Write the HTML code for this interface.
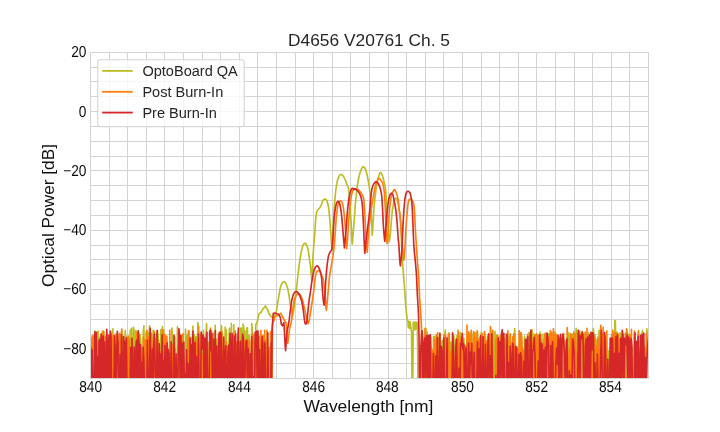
<!DOCTYPE html>
<html><head><meta charset="utf-8"><title>D4656 V20761 Ch. 5</title>
<style>
html,body{margin:0;padding:0;background:#fff;}
body{width:720px;height:432px;overflow:hidden;}
text{font-family:"Liberation Sans",Arial,sans-serif;fill:#262626;}
.tk{font-size:13.7px;fill:#0a0a0a;}
.lg{font-size:14.55px;}
.lb{font-size:17.4px;fill:#111;}
.yl{font-size:17.3px;fill:#111;}
.tt{font-size:17.35px;}
</style></head><body>
<svg width="720" height="432" viewBox="0 0 720 432" style="display:block">
<rect width="720" height="432" fill="#fff"/>
<path d="M90.5 52 V379 M109.5 52 V379 M127.5 52 V379 M146.5 52 V379 M164.5 52 V379 M183.5 52 V379 M202.5 52 V379 M220.5 52 V379 M239.5 52 V379 M257.5 52 V379 M276.5 52 V379 M295.5 52 V379 M313.5 52 V379 M332.5 52 V379 M350.5 52 V379 M369.5 52 V379 M388.5 52 V379 M406.5 52 V379 M425.5 52 V379 M443.5 52 V379 M462.5 52 V379 M481.5 52 V379 M499.5 52 V379 M518.5 52 V379 M536.5 52 V379 M555.5 52 V379 M574.5 52 V379 M592.5 52 V379 M611.5 52 V379 M629.5 52 V379 M648.5 52 V379 M90 52.5 H649 M90 67.5 H649 M90 81.5 H649 M90 96.5 H649 M90 111.5 H649 M90 126.5 H649 M90 141.5 H649 M90 156.5 H649 M90 170.5 H649 M90 185.5 H649 M90 200.5 H649 M90 215.5 H649 M90 230.5 H649 M90 245.5 H649 M90 259.5 H649 M90 274.5 H649 M90 289.5 H649 M90 304.5 H649 M90 319.5 H649 M90 334.5 H649 M90 348.5 H649 M90 363.5 H649 M90 378.5 H649" stroke="#d3d3d3" stroke-width="1" fill="none"/>
<clipPath id="c"><rect x="90" y="52" width="558" height="326"/></clipPath>
<g clip-path="url(#c)" fill="none" stroke-width="1.65" stroke-linejoin="round" stroke-linecap="butt">
<path d="M90.0 400.0 L90.6 400.0 L91.2 340.6 L91.9 400.0 L92.5 400.0 L93.1 335.9 L93.7 400.0 L94.3 400.0 L95.0 331.3 L95.6 331.5 L96.2 355.0 L96.8 400.0 L97.4 331.5 L98.1 331.2 L98.7 400.0 L99.3 337.2 L99.9 400.0 L100.5 400.0 L101.2 337.2 L101.8 400.0 L102.4 331.4 L103.0 351.0 L103.6 353.6 L104.3 400.0 L104.9 370.7 L105.5 400.0 L106.1 359.6 L106.7 400.0 L107.4 347.8 L108.0 400.0 L108.6 352.5 L109.2 339.2 L109.8 348.5 L110.5 400.0 L111.1 340.9 L111.7 347.9 L112.3 400.0 L112.9 328.8 L113.6 400.0 L114.8 400.0 L115.4 334.0 L116.0 347.2 L116.7 400.0 L117.3 400.0 L117.9 335.8 L118.5 351.7 L119.1 353.0 L119.8 353.2 L120.4 400.0 L121.0 359.4 L121.6 331.3 L122.2 400.0 L122.9 338.1 L123.5 346.1 L124.1 400.0 L124.7 342.7 L125.3 330.6 L126.0 400.0 L126.6 400.0 L127.2 336.2 L127.8 400.0 L128.4 400.0 L129.1 347.2 L129.7 345.8 L130.3 330.1 L130.9 374.2 L131.5 328.3 L132.2 380.0 L132.8 400.0 L133.4 327.2 L134.0 330.6 L134.6 400.0 L135.3 334.2 L135.9 330.6 L136.5 400.0 L137.1 400.0 L137.7 338.4 L138.4 400.0 L139.0 400.0 L139.6 334.1 L140.2 336.0 L140.8 340.5 L141.5 400.0 L142.1 351.1 L142.7 400.0 L143.3 332.0 L143.9 325.8 L144.6 400.0 L145.8 400.0 L146.4 331.4 L147.0 400.0 L147.7 332.4 L148.3 400.0 L148.9 354.8 L149.5 325.8 L150.1 400.0 L150.8 400.0 L151.4 350.3 L152.0 400.0 L152.6 348.4 L153.2 330.3 L153.9 347.3 L154.5 360.7 L155.1 338.5 L155.7 348.7 L156.3 366.0 L157.0 400.0 L157.6 331.5 L158.2 338.9 L158.8 343.5 L159.4 344.1 L160.1 400.0 L160.7 329.9 L161.3 400.0 L161.9 331.4 L162.5 326.7 L163.2 400.0 L163.8 329.9 L164.4 400.0 L165.0 334.0 L165.6 400.0 L166.3 358.7 L166.9 400.0 L167.5 360.8 L168.1 400.0 L168.7 400.0 L169.4 350.6 L170.0 400.0 L171.2 400.0 L171.8 328.0 L172.5 334.8 L173.1 400.0 L173.7 347.4 L174.3 400.0 L174.9 337.4 L175.6 400.0 L176.8 400.0 L177.4 326.8 L178.0 400.0 L178.7 339.2 L179.3 361.2 L179.9 400.0 L180.5 335.3 L181.1 400.0 L181.8 400.0 L182.4 349.6 L183.0 334.6 L183.6 400.0 L184.9 400.0 L185.5 329.3 L186.1 400.0 L186.7 335.5 L187.3 400.0 L188.0 368.4 L188.6 400.0 L189.2 331.4 L189.8 400.0 L190.4 400.0 L191.1 337.2 L191.7 343.5 L192.3 400.0 L192.9 326.1 L193.5 400.0 L194.2 334.5 L194.8 400.0 L195.4 400.0 L196.0 336.6 L196.6 400.0 L197.3 347.2 L197.9 322.6 L198.5 334.3 L199.1 400.0 L200.4 400.0 L201.0 334.6 L201.6 337.7 L202.2 400.0 L202.8 350.0 L203.5 330.3 L204.1 400.0 L204.7 360.2 L205.3 400.0 L205.9 337.5 L206.6 323.6 L207.2 400.0 L207.8 341.7 L208.4 400.0 L209.0 359.5 L209.7 392.4 L210.3 400.0 L210.9 353.5 L211.5 330.9 L212.1 400.0 L212.8 400.0 L213.4 338.8 L214.0 341.1 L214.6 400.0 L215.2 325.2 L215.9 400.0 L216.5 339.2 L217.1 400.0 L217.7 400.0 L218.3 345.0 L219.0 400.0 L219.6 341.8 L220.2 400.0 L220.8 400.0 L221.4 325.6 L222.1 334.6 L222.7 400.0 L223.3 340.6 L223.9 400.0 L224.5 400.0 L225.2 327.1 L225.8 400.0 L226.4 329.8 L227.0 400.0 L227.6 373.0 L228.3 400.0 L228.9 342.8 L229.5 328.1 L230.1 400.0 L230.7 400.0 L231.4 323.3 L232.0 400.0 L232.6 339.9 L233.2 400.0 L233.8 324.8 L234.5 400.0 L235.1 332.7 L235.7 400.0 L236.3 344.4 L236.9 400.0 L237.6 341.9 L238.2 333.0 L238.8 400.0 L239.4 342.7 L240.0 400.0 L240.7 328.2 L241.3 327.9 L241.9 367.7 L242.5 400.0 L243.1 324.1 L243.8 327.7 L244.4 400.0 L245.0 330.9 L245.6 400.0 L246.2 400.0 L246.9 327.8 L247.5 327.9 L248.1 400.0 L248.7 400.0 L249.3 335.3 L250.0 400.0 L251.2 400.0 L251.8 323.6 L252.4 331.6 L253.1 400.0 L253.7 339.5 L254.3 400.0 L254.9 400.0 L255.8 325.0 L257.5 320.8 L258.8 314.2 L260.8 312.5 L262.0 310.8 L263.3 308.3 L264.4 307.6 L265.4 305.8 L266.5 308.4 L267.5 309.2 L268.8 313.3 L270.4 315.8 L272.5 317.5 L272.9 317.3 L273.3 316.9 L273.7 316.5 L274.1 316.0 L274.5 315.5 L274.9 314.9 L275.3 314.2 L275.7 313.4 L276.1 312.3 L276.5 310.6 L276.9 307.8 L277.3 305.0 L277.7 302.6 L278.1 300.4 L278.5 298.2 L278.9 295.9 L279.3 293.6 L279.7 291.2 L280.1 289.0 L280.5 287.3 L280.9 285.9 L281.3 284.8 L281.7 283.8 L282.1 283.1 L282.5 282.7 L282.9 282.3 L283.3 282.0 L283.7 281.8 L284.1 281.7 L284.5 281.8 L284.9 282.2 L285.3 282.8 L285.7 283.4 L286.1 284.1 L286.5 284.9 L286.9 286.0 L287.3 287.3 L287.7 288.7 L288.1 290.4 L288.5 292.6 L288.9 295.0 L289.3 297.5 L289.7 300.2 L290.1 303.1 L290.5 305.6 L290.9 307.9 L291.3 310.1 L291.7 312.2 L292.1 314.2 L292.5 316.0 L292.9 314.3 L293.3 312.5 L293.7 310.4 L294.1 308.0 L294.5 305.4 L294.9 302.1 L295.3 298.4 L295.7 294.9 L296.1 291.6 L296.5 288.1 L296.9 284.3 L297.4 280.5 L297.8 276.7 L298.2 273.0 L298.6 269.4 L299.0 266.2 L299.4 263.3 L299.8 260.6 L300.2 258.0 L300.6 255.7 L301.0 253.4 L301.4 251.3 L301.8 249.3 L302.2 247.8 L302.6 246.6 L303.0 245.5 L303.4 244.6 L303.8 244.0 L304.2 243.6 L304.6 243.4 L305.0 243.3 L305.4 243.4 L305.8 243.8 L306.2 244.3 L306.6 244.9 L307.0 245.8 L307.5 247.2 L307.9 248.9 L308.3 250.9 L308.7 253.4 L309.1 256.4 L309.5 259.4 L309.9 262.2 L310.3 265.2 L310.7 268.6 L311.1 273.4 L311.5 277.5 L311.9 280.5 L312.3 269.8 L312.7 261.5 L313.1 255.1 L313.5 249.3 L313.9 243.7 L314.3 238.6 L314.7 233.8 L315.1 228.5 L315.5 221.8 L315.9 217.3 L316.3 214.3 L316.7 212.5 L317.1 211.3 L317.5 210.4 L317.9 209.8 L318.3 209.3 L318.7 208.9 L319.1 208.5 L319.5 208.0 L319.9 207.5 L320.3 206.9 L320.7 206.2 L321.1 205.4 L321.5 204.5 L321.9 203.2 L322.3 201.8 L322.7 200.7 L323.1 200.2 L323.5 199.7 L323.9 199.4 L324.3 199.1 L324.7 199.0 L325.1 199.0 L325.5 199.2 L325.9 199.5 L326.3 199.9 L326.7 200.4 L327.1 201.2 L327.5 202.6 L327.9 204.2 L328.3 206.1 L328.7 208.5 L329.1 211.9 L329.5 216.4 L329.9 220.8 L330.3 225.7 L330.7 231.6 L331.1 238.0 L331.5 243.8 L331.9 247.7 L332.3 250.0 L332.7 242.4 L333.1 233.2 L333.5 221.9 L333.9 213.3 L334.3 206.6 L334.7 201.7 L335.1 197.3 L335.5 192.8 L336.0 188.9 L336.4 186.1 L336.8 183.8 L337.2 181.8 L337.6 180.2 L338.0 178.8 L338.4 177.6 L338.8 176.6 L339.2 175.9 L339.6 175.4 L340.0 175.0 L340.4 174.6 L340.8 174.4 L341.2 174.4 L341.6 174.6 L342.0 174.9 L342.5 175.3 L342.9 175.7 L343.3 176.2 L343.7 176.8 L344.1 177.5 L344.5 178.3 L344.9 179.2 L345.3 180.0 L345.7 181.0 L346.1 182.1 L346.5 183.1 L346.9 184.2 L347.3 185.3 L347.7 186.2 L348.1 187.2 L348.5 188.7 L349.0 191.8 L349.4 196.7 L349.8 202.5 L350.2 208.1 L350.6 214.3 L351.0 220.8 L351.4 227.6 L351.8 235.9 L352.2 244.1 L352.6 240.3 L353.0 236.0 L353.4 231.2 L353.8 226.0 L354.2 220.6 L354.6 215.0 L355.0 208.7 L355.4 203.0 L355.8 199.0 L356.2 195.5 L356.6 191.9 L357.0 188.5 L357.4 185.6 L357.8 182.9 L358.2 180.5 L358.6 178.6 L359.0 176.7 L359.4 175.1 L359.8 173.6 L360.2 172.3 L360.6 171.1 L361.0 170.1 L361.4 169.2 L361.8 168.4 L362.2 167.8 L362.6 167.3 L363.0 166.8 L363.4 166.7 L363.8 166.9 L364.2 167.3 L364.6 167.7 L365.0 168.3 L365.4 169.1 L365.8 170.2 L366.2 171.5 L366.6 172.9 L367.0 174.5 L367.4 176.3 L367.8 178.4 L368.2 180.6 L368.6 182.8 L369.0 185.1 L369.4 187.8 L369.8 190.8 L370.2 194.4 L370.6 198.9 L371.0 205.8 L371.4 216.4 L371.8 226.5 L372.2 235.2 L372.6 230.4 L373.0 224.8 L373.4 218.3 L373.8 210.7 L374.2 205.4 L374.6 201.3 L375.0 197.8 L375.4 194.6 L375.8 191.4 L376.2 188.3 L376.7 185.4 L377.1 182.9 L377.5 180.9 L377.9 179.2 L378.3 177.6 L378.7 176.3 L379.1 175.1 L379.5 173.8 L379.9 172.8 L380.3 172.4 L380.7 172.6 L381.1 173.0 L381.5 173.7 L381.9 174.4 L382.3 175.3 L382.7 176.4 L383.1 177.9 L383.5 179.5 L383.9 181.3 L384.3 182.9 L384.7 184.8 L385.2 186.9 L385.6 189.7 L386.0 194.1 L386.4 200.5 L386.8 207.1 L387.2 213.8 L387.6 220.3 L388.0 226.3 L388.4 231.9 L388.8 237.1 L389.2 241.9 L389.6 240.2 L390.0 237.5 L390.4 234.0 L390.8 228.7 L391.2 223.1 L391.6 218.2 L392.0 213.6 L392.4 210.1 L392.8 207.6 L393.2 205.1 L393.6 202.5 L394.0 200.7 L394.4 199.6 L394.8 198.7 L395.2 198.3 L395.6 198.2 L396.0 198.4 L396.4 198.6 L396.8 199.0 L397.2 200.0 L397.6 201.5 L398.0 203.3 L398.5 205.2 L398.9 207.3 L399.3 209.9 L399.7 213.1 L400.1 217.3 L400.5 223.0 L400.9 230.5 L401.3 238.0 L401.7 245.9 L402.1 253.5 L402.5 260.6 L402.9 267.2 L403.3 272.7 L403.7 277.5 L404.1 282.3 L404.5 287.5 L404.9 293.4 L405.3 299.4 L405.7 304.7 L406.1 309.2 L406.5 313.3 L406.9 316.9 L407.3 320.0 L407.9 321.0 L408.3 327.5 L408.8 321.5 L409.4 328.5 L410.0 321.5 L410.8 326.6 L411.5 332.0 L412.2 400.0 L412.6 400.0 L413.3 322.0 L413.9 329.0 L414.4 322.5 L414.9 330.0 L415.4 322.0 L415.9 329.0 L416.4 322.3 L416.9 328.0 L417.3 322.5 L417.8 363.0 L418.2 400.0 L418.6 400.0 L419.8 400.0 L420.5 345.3 L421.1 400.0 L421.7 342.9 L422.3 344.7 L422.9 400.0 L423.6 358.0 L424.2 400.0 L425.4 400.0 L426.0 328.5 L426.7 400.0 L427.3 332.0 L427.9 400.0 L428.5 359.5 L429.1 358.3 L429.8 400.0 L430.4 400.0 L431.0 337.2 L431.6 400.0 L432.9 400.0 L433.5 336.6 L434.1 400.0 L434.7 336.3 L435.3 400.0 L436.6 400.0 L437.2 361.2 L437.8 346.0 L438.4 337.5 L439.1 400.0 L439.7 348.7 L440.3 400.0 L440.9 341.4 L441.5 400.0 L442.2 400.0 L442.8 340.3 L443.4 358.1 L444.0 400.0 L444.6 337.0 L445.3 330.1 L445.9 400.0 L446.5 400.0 L447.1 359.9 L447.7 345.8 L448.4 338.5 L449.0 332.9 L449.6 341.7 L450.2 400.0 L450.8 342.2 L451.5 400.0 L452.1 400.0 L452.7 338.3 L453.3 400.0 L453.9 335.6 L454.6 400.0 L455.2 400.0 L455.8 339.3 L456.4 354.2 L457.0 335.8 L457.7 400.0 L458.3 400.0 L458.9 348.7 L459.5 343.4 L460.1 332.4 L460.8 400.0 L461.4 400.0 L462.0 344.6 L462.6 400.0 L463.2 340.6 L463.9 338.4 L464.5 400.0 L465.1 400.0 L465.7 355.0 L466.3 357.2 L467.0 400.0 L467.6 400.0 L468.2 350.2 L468.8 400.0 L469.4 336.9 L470.1 333.0 L470.7 400.0 L471.3 342.4 L471.9 333.7 L472.5 400.0 L473.2 367.0 L473.8 400.0 L474.4 348.9 L475.0 332.2 L475.6 400.0 L476.3 333.0 L476.9 348.6 L477.5 331.8 L478.1 350.7 L478.7 400.0 L479.4 363.2 L480.0 337.2 L480.6 400.0 L481.2 332.4 L481.8 342.9 L482.5 400.0 L483.7 400.0 L484.3 340.1 L484.9 400.0 L485.6 400.0 L486.2 347.8 L486.8 400.0 L487.4 336.0 L488.0 360.6 L488.7 400.0 L489.3 337.8 L489.9 400.0 L490.5 334.6 L491.1 346.8 L491.8 400.0 L492.4 345.1 L493.0 400.0 L494.2 400.0 L494.9 331.4 L495.5 338.4 L496.1 335.9 L496.7 400.0 L497.3 334.9 L498.0 336.2 L498.6 400.0 L499.2 400.0 L499.8 336.6 L500.4 367.6 L501.1 400.0 L501.7 332.6 L502.3 400.0 L502.9 336.8 L503.5 400.0 L504.2 339.3 L504.8 400.0 L505.4 339.5 L506.0 333.9 L506.6 400.0 L507.3 361.1 L507.9 340.6 L508.5 400.0 L509.1 336.5 L509.7 400.0 L510.4 356.0 L511.0 352.3 L511.6 363.9 L512.2 341.7 L512.8 400.0 L513.5 336.7 L514.1 400.0 L514.7 328.6 L515.3 337.4 L515.9 400.0 L516.6 355.4 L517.2 400.0 L517.8 346.9 L518.4 400.0 L519.0 400.0 L519.7 333.2 L520.3 333.5 L520.9 351.1 L521.5 337.6 L522.1 400.0 L522.8 400.0 L523.4 355.9 L524.0 400.0 L524.6 336.0 L525.2 364.4 L525.9 349.3 L526.5 400.0 L527.1 343.0 L527.7 400.0 L528.3 400.0 L529.0 332.6 L529.6 400.0 L530.2 333.0 L530.8 359.0 L531.4 346.4 L532.1 329.9 L532.7 334.6 L533.3 400.0 L533.9 400.0 L534.5 334.4 L535.2 340.1 L535.8 400.0 L536.4 351.7 L537.0 344.7 L537.6 400.0 L538.3 368.2 L538.9 400.0 L539.5 342.8 L540.1 332.0 L540.7 400.0 L541.4 400.0 L542.0 334.2 L542.6 400.0 L543.2 400.0 L543.8 344.1 L544.5 357.8 L545.1 400.0 L545.7 400.0 L546.3 389.8 L546.9 400.0 L547.6 339.6 L548.2 400.0 L548.8 333.5 L549.4 334.6 L550.0 400.0 L550.7 346.3 L551.3 338.4 L551.9 400.0 L552.5 400.0 L553.1 361.3 L553.8 345.5 L554.4 400.0 L555.0 332.2 L555.6 333.2 L556.2 400.0 L556.9 400.0 L557.5 348.3 L558.1 400.0 L563.7 400.0 L564.3 357.9 L564.9 353.0 L565.5 344.1 L566.2 400.0 L566.8 342.3 L567.4 400.0 L568.0 400.0 L568.6 332.8 L569.3 334.7 L569.9 400.0 L570.5 340.3 L571.1 400.0 L571.7 400.0 L572.4 334.4 L573.0 397.3 L573.6 370.4 L574.2 400.0 L574.8 336.3 L575.5 400.0 L576.1 328.4 L576.7 336.0 L577.3 333.5 L577.9 333.2 L578.6 346.7 L579.2 400.0 L579.8 331.1 L580.4 400.0 L581.0 333.8 L581.7 400.0 L582.3 351.6 L582.9 337.3 L583.5 337.3 L584.1 400.0 L584.8 334.0 L585.4 349.8 L586.0 400.0 L586.6 400.0 L587.2 351.4 L587.9 400.0 L588.5 332.9 L589.1 400.0 L589.7 400.0 L590.3 343.5 L591.0 400.0 L591.6 341.1 L592.2 400.0 L592.8 335.5 L593.4 328.5 L594.1 341.8 L594.7 400.0 L595.3 335.4 L595.9 400.0 L596.5 339.9 L597.2 400.0 L597.8 341.5 L598.4 400.0 L599.0 330.6 L599.6 400.0 L600.3 400.0 L600.9 343.5 L601.5 348.5 L602.1 400.0 L602.7 333.8 L603.4 400.0 L604.0 338.0 L604.6 342.5 L605.2 400.0 L605.8 384.2 L606.5 400.0 L608.3 400.0 L608.9 350.6 L609.6 400.0 L610.2 400.0 L610.8 362.8 L611.4 347.0 L612.0 334.1 L612.7 400.0 L613.3 336.4 L614.2 400.0 L614.8 320.5 L615.4 321.5 L616.0 400.0 L617.0 331.8 L617.6 400.0 L618.2 400.0 L618.9 341.0 L619.5 400.0 L620.1 332.8 L620.7 400.0 L621.3 337.1 L622.0 400.0 L622.6 338.4 L623.2 335.2 L623.8 350.4 L624.4 400.0 L625.1 400.0 L625.7 352.9 L626.3 400.0 L627.5 400.0 L628.2 344.6 L628.8 334.1 L629.4 400.0 L630.0 335.2 L630.6 400.0 L631.9 400.0 L632.5 348.1 L633.1 400.0 L633.7 381.3 L634.4 335.3 L635.0 400.0 L637.5 400.0 L638.1 342.3 L638.7 400.0 L639.3 348.6 L639.9 400.0 L640.6 354.1 L641.2 400.0 L641.8 335.7 L642.4 330.6 L643.0 345.7 L643.7 400.0 L644.3 361.9 L644.9 351.1 L645.5 358.2 L646.1 400.0 L646.8 328.8 L647.4 336.5 L648.0 348.7 L648.6 339.2" stroke="#bcbd22"/>
<path d="M90.0 400.0 L90.6 373.2 L91.2 400.0 L91.8 338.4 L92.4 335.7 L93.0 400.0 L93.6 400.0 L94.2 335.3 L94.8 387.1 L95.4 400.0 L96.0 339.9 L96.6 400.0 L97.8 400.0 L98.4 342.0 L99.0 400.0 L99.6 353.1 L100.2 400.0 L100.8 400.0 L101.4 333.6 L102.0 400.0 L102.6 400.0 L103.2 331.0 L103.8 331.6 L104.4 400.0 L105.0 400.0 L105.6 336.2 L106.2 400.0 L106.8 347.0 L107.4 400.0 L108.0 355.9 L108.6 400.0 L109.2 377.8 L109.8 400.0 L110.4 341.2 L111.0 333.1 L111.6 400.0 L112.2 400.0 L112.8 335.4 L113.4 400.0 L114.0 340.9 L114.6 400.0 L115.2 357.6 L115.8 369.2 L116.4 347.9 L117.0 333.5 L117.6 346.1 L118.2 349.7 L118.8 400.0 L119.4 333.3 L120.0 400.0 L120.6 335.9 L121.2 334.9 L121.8 329.1 L122.4 400.0 L123.0 347.0 L123.6 400.0 L124.8 400.0 L125.4 343.7 L126.0 400.0 L126.6 400.0 L127.2 340.8 L127.8 400.0 L128.4 336.0 L129.0 400.0 L129.6 339.1 L130.2 400.0 L132.6 400.0 L133.2 364.1 L133.8 400.0 L134.4 358.0 L135.0 400.0 L135.6 345.2 L136.2 400.0 L136.8 332.5 L137.4 400.0 L138.0 331.3 L138.6 347.1 L139.2 400.0 L140.4 400.0 L141.0 347.3 L141.6 400.0 L142.8 400.0 L143.4 337.0 L144.0 363.0 L144.6 339.8 L145.2 400.0 L145.8 400.0 L146.4 332.6 L147.0 330.4 L147.6 400.0 L148.2 337.9 L148.8 400.0 L149.4 335.0 L150.0 346.4 L150.6 344.8 L151.2 333.1 L151.8 350.2 L152.4 400.0 L153.0 400.0 L153.6 334.5 L154.2 331.3 L154.8 400.0 L156.0 400.0 L156.6 332.8 L157.2 400.0 L157.8 340.2 L158.4 400.0 L159.0 400.0 L159.6 351.0 L160.2 400.0 L160.8 400.0 L161.4 351.7 L162.0 400.0 L162.6 329.8 L163.2 372.3 L163.8 333.8 L164.4 335.5 L165.0 337.5 L165.6 400.0 L166.2 336.5 L166.8 336.0 L167.4 346.5 L168.0 400.0 L169.2 400.0 L169.8 330.3 L170.4 400.0 L171.0 400.0 L171.6 359.8 L172.2 400.0 L172.8 344.8 L173.4 400.0 L174.0 373.0 L174.6 400.0 L175.2 348.8 L175.8 400.0 L176.4 367.9 L177.0 400.0 L178.8 400.0 L179.4 337.1 L180.0 400.0 L182.4 400.0 L183.0 333.6 L183.6 400.0 L185.4 400.0 L186.0 380.3 L186.6 400.0 L187.2 400.0 L187.8 340.4 L188.4 330.7 L189.0 400.0 L193.2 400.0 L193.8 347.2 L194.4 400.0 L195.0 400.0 L195.6 338.5 L196.2 400.0 L196.8 400.0 L197.4 341.2 L198.0 400.0 L198.6 326.6 L199.2 400.0 L199.8 343.9 L200.4 400.0 L201.0 333.3 L201.6 400.0 L202.2 355.0 L202.8 400.0 L203.4 357.3 L204.0 347.5 L204.6 370.9 L205.2 400.0 L205.8 347.2 L206.4 342.0 L207.0 400.0 L207.6 342.7 L208.2 377.0 L208.8 400.0 L210.0 400.0 L210.6 328.0 L211.2 400.0 L211.8 343.3 L212.4 400.0 L213.0 333.0 L213.6 400.0 L214.2 359.4 L214.8 400.0 L215.4 350.2 L216.0 400.0 L216.6 346.5 L217.2 400.0 L217.8 362.3 L218.4 334.1 L219.0 351.3 L219.6 332.5 L220.2 400.0 L220.8 331.1 L221.4 400.0 L222.0 332.1 L222.6 400.0 L223.2 365.4 L223.8 400.0 L224.4 361.0 L225.0 400.0 L225.6 400.0 L226.2 341.6 L226.8 400.0 L227.4 346.6 L228.0 400.0 L228.6 353.8 L229.2 400.0 L229.8 355.1 L230.4 400.0 L231.0 351.4 L231.6 344.0 L232.2 400.0 L232.8 334.7 L233.4 400.0 L234.6 400.0 L235.2 330.8 L235.8 376.1 L236.4 400.0 L237.0 342.2 L237.6 400.0 L238.2 400.0 L238.8 350.2 L239.4 350.0 L240.0 400.0 L240.6 348.9 L241.2 400.0 L241.8 336.8 L242.4 400.0 L243.0 334.3 L243.6 400.0 L244.2 400.0 L244.8 339.4 L245.4 400.0 L246.0 360.7 L246.6 354.4 L247.2 400.0 L247.8 339.6 L248.4 356.5 L249.0 370.3 L249.6 341.1 L250.2 400.0 L251.4 400.0 L252.0 333.5 L252.6 400.0 L253.2 337.4 L253.8 334.8 L254.4 400.0 L255.6 400.0 L256.2 332.5 L256.8 400.0 L257.4 400.0 L258.0 335.3 L258.6 400.0 L259.2 336.4 L259.8 400.0 L260.4 400.0 L261.0 330.4 L261.6 400.0 L262.2 400.0 L262.8 335.5 L263.4 339.8 L264.0 400.0 L264.6 330.4 L265.2 400.0 L265.8 339.9 L266.4 400.0 L267.0 330.2 L267.6 400.0 L268.2 400.0 L268.8 349.8 L269.4 347.6 L270.0 400.0 L270.6 331.5 L271.2 333.8 L271.8 400.0 L272.0 380.0 L272.5 324.2 L273.8 320.8 L275.0 316.7 L276.7 315.8 L278.8 314.6 L280.8 313.3 L282.5 316.7 L284.2 320.0 L285.8 322.5 L286.3 324.3 L287.1 336.8 L287.7 343.3 L288.6 336.8 L289.6 328.5 L290.8 324.3 L292.0 318.0 L292.4 313.0 L292.8 309.1 L293.2 306.1 L293.6 303.8 L294.0 301.9 L294.4 300.3 L294.8 298.9 L295.2 297.7 L295.6 296.7 L296.0 295.9 L296.4 295.2 L296.8 294.6 L297.2 294.2 L297.6 293.9 L298.0 293.7 L298.4 293.6 L298.8 293.6 L299.2 293.9 L299.6 294.3 L300.1 294.8 L300.5 295.4 L300.9 296.0 L301.3 296.8 L301.7 297.7 L302.1 298.9 L302.5 300.2 L302.9 301.6 L303.3 303.3 L303.7 305.1 L304.1 306.8 L304.5 308.5 L304.9 310.1 L305.3 311.9 L305.7 313.8 L306.1 315.9 L306.5 317.9 L306.9 319.8 L307.3 321.3 L307.7 322.5 L308.1 323.6 L308.5 322.5 L308.9 321.1 L309.3 319.4 L309.7 317.4 L310.1 315.0 L310.5 312.5 L310.9 309.8 L311.4 307.0 L311.8 304.2 L312.2 301.3 L312.6 298.5 L313.0 295.9 L313.4 293.3 L313.8 290.4 L314.2 286.7 L314.6 282.9 L315.0 279.7 L315.4 276.6 L315.8 274.2 L316.2 272.8 L316.6 271.9 L317.0 271.2 L317.5 270.9 L317.9 270.8 L318.3 270.6 L318.7 270.6 L319.1 270.7 L319.5 271.0 L319.9 271.5 L320.3 272.0 L320.7 272.7 L321.1 273.7 L321.5 274.8 L321.9 275.7 L322.3 276.6 L322.7 277.6 L323.1 279.1 L323.6 281.5 L324.0 284.6 L324.4 288.3 L324.8 292.4 L325.2 296.9 L325.6 303.2 L326.0 308.4 L326.4 310.2 L326.8 306.2 L327.2 302.2 L327.6 297.9 L328.0 293.4 L328.4 288.9 L328.8 284.3 L329.2 279.6 L329.6 276.0 L330.1 273.1 L330.5 270.5 L330.9 268.1 L331.3 265.7 L331.7 263.4 L332.1 261.3 L332.5 259.0 L332.9 256.4 L333.3 253.5 L333.7 250.4 L334.1 246.8 L334.5 242.7 L334.9 237.3 L335.3 231.6 L335.7 225.4 L336.1 219.7 L336.5 215.0 L337.0 210.8 L337.4 208.0 L337.8 205.9 L338.2 204.2 L338.6 203.0 L339.0 202.2 L339.4 201.5 L339.8 200.9 L340.2 200.6 L340.6 200.6 L341.0 200.9 L341.4 201.4 L341.8 202.0 L342.2 202.8 L342.6 204.1 L343.0 205.9 L343.5 208.4 L343.9 212.0 L344.3 215.8 L344.7 219.8 L345.1 224.1 L345.5 229.4 L345.9 237.8 L346.3 243.9 L346.7 248.6 L347.1 244.7 L347.5 239.8 L347.9 234.2 L348.3 227.2 L348.7 220.6 L349.1 214.9 L349.5 210.9 L349.9 207.4 L350.3 203.8 L350.7 200.3 L351.1 197.5 L351.5 195.1 L351.9 193.2 L352.3 191.8 L352.7 191.0 L353.1 190.4 L353.5 190.0 L353.9 189.7 L354.3 189.5 L354.7 189.3 L355.1 189.2 L355.5 189.1 L355.9 189.1 L356.3 189.2 L356.7 189.3 L357.2 189.4 L357.6 189.5 L358.0 189.7 L358.4 189.8 L358.8 190.1 L359.2 190.4 L359.6 190.9 L360.0 191.4 L360.4 191.9 L360.8 192.4 L361.2 193.0 L361.6 193.7 L362.0 194.4 L362.4 195.2 L362.8 196.1 L363.2 197.1 L363.6 198.5 L364.0 201.1 L364.4 206.8 L364.8 213.9 L365.2 221.8 L365.6 229.7 L366.0 236.9 L366.4 242.9 L366.8 248.1 L367.2 252.4 L367.6 245.7 L368.0 239.6 L368.4 234.5 L368.8 230.0 L369.2 226.0 L369.6 222.3 L370.0 218.9 L370.4 215.6 L370.8 212.6 L371.2 209.8 L371.6 207.0 L372.0 204.3 L372.5 201.7 L372.9 199.2 L373.3 196.8 L373.7 194.5 L374.1 192.5 L374.5 190.4 L374.9 188.5 L375.3 186.8 L375.7 185.2 L376.1 183.9 L376.5 182.8 L376.9 181.7 L377.3 180.6 L377.7 179.7 L378.1 178.9 L378.5 178.5 L378.9 178.3 L379.3 178.4 L379.7 178.8 L380.1 179.2 L380.5 179.8 L380.9 180.4 L381.3 180.9 L381.7 181.6 L382.2 182.3 L382.6 183.2 L383.0 184.4 L383.4 186.1 L383.8 188.4 L384.2 191.3 L384.6 195.2 L385.0 201.7 L385.4 209.9 L385.8 222.0 L386.2 232.0 L386.6 238.9 L387.0 243.6 L387.4 240.8 L387.8 236.6 L388.2 231.6 L388.6 224.8 L389.0 216.6 L389.4 211.1 L389.8 206.8 L390.2 203.4 L390.6 200.5 L391.0 198.1 L391.4 196.3 L391.8 194.7 L392.2 193.4 L392.6 192.3 L393.0 191.5 L393.4 190.8 L393.8 190.2 L394.2 189.8 L394.6 189.6 L395.0 190.0 L395.4 190.8 L395.8 191.7 L396.2 192.7 L396.6 193.8 L397.0 195.1 L397.4 196.5 L397.8 198.1 L398.2 200.2 L398.6 203.9 L399.0 208.5 L399.4 211.3 L399.8 213.8 L400.2 216.9 L400.6 221.3 L401.0 226.1 L401.4 231.1 L401.8 236.3 L402.2 242.0 L402.6 247.2 L403.0 251.9 L403.4 256.3 L403.8 260.2 L404.2 258.1 L404.6 254.3 L405.0 247.8 L405.4 239.3 L405.8 230.6 L406.2 224.5 L406.6 219.4 L407.0 214.9 L407.4 210.1 L407.8 205.9 L408.2 202.6 L408.6 201.0 L409.0 199.9 L409.4 199.3 L409.8 199.2 L410.2 199.3 L410.6 199.4 L411.0 199.5 L411.4 199.7 L411.8 200.0 L412.2 200.5 L412.6 201.2 L413.1 202.0 L413.5 203.4 L413.9 205.3 L414.3 208.6 L414.7 214.5 L415.1 223.8 L415.5 231.7 L415.9 238.6 L416.3 244.2 L416.7 250.1 L417.1 256.4 L417.5 262.4 L417.9 267.3 L418.3 271.8 L418.7 277.3 L419.1 287.1 L419.5 295.5 L419.9 301.9 L420.3 307.6 L420.7 313.4 L421.1 319.7 L421.5 326.0 L422.0 400.0 L422.6 336.0 L423.2 400.0 L423.8 400.0 L424.4 361.3 L425.0 328.3 L425.6 344.3 L426.2 400.0 L427.4 400.0 L428.0 344.9 L428.6 373.3 L429.2 400.0 L429.8 341.0 L430.4 400.0 L431.0 346.5 L431.6 400.0 L432.2 349.9 L432.8 400.0 L433.4 355.5 L434.0 400.0 L434.6 339.8 L435.2 400.0 L435.8 342.2 L436.4 334.9 L437.0 400.0 L437.6 332.5 L438.2 400.0 L438.8 374.0 L439.4 400.0 L440.0 333.1 L440.6 400.0 L441.2 357.4 L441.8 400.0 L443.6 400.0 L444.2 334.7 L444.8 400.0 L445.4 334.9 L446.0 378.6 L446.6 400.0 L447.2 400.0 L447.8 354.3 L448.4 335.0 L449.0 333.7 L449.6 400.0 L450.2 351.2 L450.8 400.0 L452.0 400.0 L452.6 344.2 L453.2 351.4 L453.8 370.3 L454.4 356.6 L455.0 371.5 L455.6 400.0 L456.2 400.0 L456.8 344.9 L457.4 400.0 L458.0 330.2 L458.6 343.2 L459.2 358.0 L459.8 400.0 L460.4 350.0 L461.0 337.2 L461.6 345.8 L462.2 400.0 L462.8 343.1 L463.4 400.0 L464.0 400.0 L464.6 352.1 L465.2 345.6 L465.8 400.0 L466.4 400.0 L467.0 325.1 L467.6 400.0 L468.2 400.0 L468.8 331.8 L469.4 400.0 L470.0 338.6 L470.6 361.7 L471.2 330.2 L471.8 400.0 L472.4 400.0 L473.0 358.3 L473.6 331.7 L474.2 336.8 L474.8 341.5 L475.4 400.0 L476.0 400.0 L476.6 354.7 L477.2 330.7 L477.8 400.0 L478.4 339.1 L479.0 400.0 L479.6 343.0 L480.2 400.0 L480.8 336.5 L481.4 344.0 L482.0 333.5 L482.6 348.0 L483.2 337.4 L483.8 400.0 L484.4 331.6 L485.0 335.2 L485.6 356.2 L486.2 341.1 L486.8 359.3 L487.4 400.0 L488.0 339.6 L488.6 400.0 L489.2 356.4 L489.8 400.0 L490.4 326.6 L491.0 332.4 L491.6 335.4 L492.2 351.9 L492.8 330.2 L493.4 400.0 L495.2 400.0 L495.8 339.5 L496.4 400.0 L497.0 335.6 L497.6 400.0 L498.2 400.0 L498.8 349.4 L499.4 370.0 L500.0 355.5 L500.6 400.0 L501.2 335.0 L501.8 400.0 L502.4 400.0 L503.0 355.9 L503.6 400.0 L504.2 400.0 L504.8 376.8 L505.4 338.1 L506.0 400.0 L506.6 345.2 L507.2 400.0 L507.8 330.5 L508.4 372.0 L509.0 400.0 L509.6 400.0 L510.2 333.8 L510.8 400.0 L512.0 400.0 L512.6 336.5 L513.2 400.0 L513.8 333.5 L514.4 354.4 L515.0 400.0 L515.6 400.0 L516.2 368.3 L516.8 400.0 L517.4 348.6 L518.0 350.1 L518.6 400.0 L519.2 330.9 L519.8 400.0 L520.4 387.6 L521.0 332.5 L521.6 335.6 L522.2 349.3 L522.8 400.0 L523.4 350.0 L524.0 400.0 L524.6 353.4 L525.2 400.0 L525.8 347.4 L526.4 341.6 L527.0 400.0 L527.6 334.4 L528.2 400.0 L528.8 359.1 L529.4 400.0 L530.0 340.9 L530.6 400.0 L531.8 400.0 L532.4 341.9 L533.0 400.0 L533.6 371.8 L534.2 400.0 L534.8 361.4 L535.4 334.5 L536.0 400.0 L536.6 333.6 L537.2 400.0 L537.8 338.5 L538.4 335.4 L539.0 336.6 L539.6 400.0 L540.2 350.6 L540.8 339.4 L541.4 400.0 L542.0 343.9 L542.6 362.3 L543.2 400.0 L543.8 341.9 L544.4 334.0 L545.0 400.0 L545.6 333.1 L546.2 400.0 L546.8 345.6 L547.4 336.4 L548.0 348.5 L548.6 337.8 L549.2 400.0 L549.8 339.4 L550.4 330.5 L551.0 400.0 L551.6 332.3 L552.2 400.0 L552.8 400.0 L553.4 328.5 L554.0 335.9 L554.6 400.0 L555.2 334.4 L555.8 400.0 L556.4 400.0 L557.0 334.5 L557.6 400.0 L558.2 400.0 L558.8 350.7 L559.4 400.0 L560.0 349.3 L560.6 400.0 L561.2 347.4 L561.8 400.0 L563.0 400.0 L563.6 333.6 L564.2 358.5 L564.8 340.5 L565.4 371.3 L566.0 351.5 L566.6 400.0 L567.2 327.6 L567.8 400.0 L568.4 351.6 L569.0 400.0 L569.6 347.5 L570.2 400.0 L570.8 333.7 L571.4 334.6 L572.0 362.1 L572.6 348.0 L573.2 400.0 L573.8 331.9 L574.4 400.0 L575.0 333.7 L575.6 335.5 L576.2 358.5 L576.8 400.0 L577.4 354.4 L578.0 400.0 L578.6 334.4 L579.2 400.0 L579.8 333.8 L580.4 356.8 L581.0 363.8 L581.6 365.3 L582.2 400.0 L584.0 400.0 L584.6 353.6 L585.2 332.1 L585.8 400.0 L586.4 400.0 L587.0 328.4 L587.6 400.0 L588.2 400.0 L588.8 367.8 L589.4 400.0 L590.0 340.2 L590.6 400.0 L591.2 339.4 L591.8 348.3 L592.4 400.0 L593.0 400.0 L593.6 357.1 L594.2 365.5 L594.8 337.6 L595.4 400.0 L596.0 400.0 L596.6 345.6 L597.2 400.0 L597.8 337.2 L598.4 400.0 L599.0 400.0 L599.6 339.6 L600.2 336.3 L600.8 325.4 L601.4 335.7 L602.0 368.6 L602.6 400.0 L603.2 327.4 L603.8 400.0 L604.4 334.5 L605.0 400.0 L605.6 336.6 L606.2 400.0 L606.8 330.9 L607.4 400.0 L608.0 383.0 L608.6 400.0 L609.8 400.0 L610.4 346.6 L611.0 400.0 L611.6 335.0 L612.2 400.0 L612.8 330.2 L613.4 400.0 L614.0 344.1 L614.6 332.6 L615.2 400.0 L615.8 333.3 L616.4 345.3 L617.0 400.0 L617.6 400.0 L618.2 334.1 L618.8 400.0 L620.0 400.0 L620.6 338.5 L621.2 400.0 L621.8 342.9 L622.4 334.2 L623.0 400.0 L623.6 400.0 L624.2 339.3 L624.8 400.0 L625.4 333.0 L626.0 354.4 L626.6 328.7 L627.2 333.0 L627.8 400.0 L628.4 400.0 L629.0 351.4 L629.6 334.7 L630.2 338.4 L630.8 400.0 L631.4 329.4 L632.0 400.0 L632.6 400.0 L633.2 357.5 L633.8 400.0 L634.4 331.0 L635.0 400.0 L637.4 400.0 L638.0 333.9 L638.6 330.7 L639.2 400.0 L639.8 353.2 L640.4 400.0 L641.0 335.2 L641.6 400.0 L642.2 344.5 L642.8 400.0 L644.0 400.0 L644.6 347.4 L645.2 400.0 L645.8 400.0 L646.4 333.7 L647.0 348.7 L647.6 357.5 L648.2 342.5 L648.8 351.3" stroke="#ff7f0e"/>
<path d="M90.0 400.0 L90.7 346.9 L91.4 400.0 L92.1 349.5 L92.8 376.5 L93.5 400.0 L94.2 400.0 L94.9 331.7 L95.6 400.0 L96.3 332.5 L97.0 400.0 L97.7 356.6 L98.4 400.0 L99.1 340.5 L99.8 339.6 L100.5 400.0 L101.2 334.4 L101.9 400.0 L102.6 337.2 L103.3 336.0 L104.0 400.0 L104.7 341.8 L105.4 400.0 L106.1 400.0 L106.8 329.4 L107.5 353.2 L108.2 400.0 L108.9 335.2 L109.6 400.0 L110.3 331.0 L111.0 335.8 L111.7 400.0 L113.8 400.0 L114.5 335.7 L115.2 346.8 L115.9 400.0 L116.6 360.2 L117.3 331.4 L118.0 341.9 L118.7 400.0 L119.4 400.0 L120.1 354.6 L120.8 400.0 L121.5 334.9 L122.2 400.0 L122.9 400.0 L123.6 336.7 L124.3 400.0 L125.0 341.2 L125.7 400.0 L126.4 337.9 L127.1 400.0 L129.9 400.0 L130.6 347.5 L131.3 400.0 L132.0 338.3 L132.7 400.0 L133.4 400.0 L134.1 347.2 L134.8 355.4 L135.5 400.0 L136.2 341.8 L136.9 340.1 L137.6 400.0 L138.3 330.8 L139.0 343.7 L139.7 400.0 L140.4 344.5 L141.1 400.0 L141.8 362.7 L142.5 400.0 L143.2 347.2 L143.9 360.7 L144.6 400.0 L146.7 400.0 L147.4 340.3 L148.1 400.0 L148.8 400.0 L149.5 369.9 L150.2 328.0 L150.9 400.0 L151.6 400.0 L152.3 349.0 L153.0 400.0 L153.7 344.1 L154.4 334.4 L155.1 361.4 L155.8 400.0 L156.5 400.0 L157.2 330.3 L157.9 400.0 L158.6 400.0 L159.3 343.7 L160.0 400.0 L160.7 354.1 L161.4 400.0 L162.1 334.7 L162.8 400.0 L163.5 360.5 L164.2 387.5 L164.9 345.5 L165.6 400.0 L166.3 364.6 L167.0 343.0 L167.7 400.0 L168.4 349.7 L169.1 353.9 L169.8 400.0 L170.5 400.0 L171.2 341.7 L171.9 400.0 L172.6 400.0 L173.3 387.6 L174.0 335.4 L174.7 400.0 L175.4 400.0 L176.1 353.9 L176.8 400.0 L177.5 400.0 L178.2 357.0 L178.9 328.7 L179.6 335.4 L180.3 400.0 L181.0 335.6 L181.7 400.0 L182.4 343.4 L183.1 400.0 L183.8 342.0 L184.5 400.0 L185.2 373.8 L185.9 400.0 L186.6 349.7 L187.3 400.0 L188.0 363.3 L188.7 400.0 L189.4 400.0 L190.1 338.0 L190.8 400.0 L191.5 344.8 L192.2 400.0 L192.9 331.0 L193.6 352.5 L194.3 400.0 L195.0 342.4 L195.7 400.0 L196.4 356.4 L197.1 390.3 L197.8 400.0 L198.5 334.2 L199.2 400.0 L200.6 400.0 L201.3 332.1 L202.0 349.2 L202.7 335.0 L203.4 335.9 L204.1 400.0 L204.8 338.3 L205.5 400.0 L206.2 341.6 L206.9 332.2 L207.6 400.0 L208.3 377.7 L209.0 400.0 L209.7 331.3 L210.4 330.3 L211.1 350.6 L211.8 333.8 L212.5 400.0 L213.2 400.0 L213.9 339.3 L214.6 400.0 L215.3 330.5 L216.0 400.0 L216.7 346.1 L217.4 400.0 L218.1 400.0 L218.8 338.2 L219.5 332.3 L220.2 400.0 L220.9 332.7 L221.6 352.4 L222.3 400.0 L223.0 400.0 L223.7 337.0 L224.4 400.0 L225.1 354.8 L225.8 345.8 L226.5 400.0 L227.2 400.0 L227.9 354.6 L228.6 345.2 L229.3 400.0 L230.0 333.3 L230.7 350.9 L231.4 400.0 L232.1 333.4 L232.8 400.0 L233.5 400.0 L234.2 336.2 L234.9 400.0 L235.6 334.1 L236.3 400.0 L237.0 400.0 L237.7 345.3 L238.4 328.0 L239.1 400.0 L239.8 400.0 L240.5 341.4 L241.2 368.9 L241.9 400.0 L242.6 334.2 L243.3 337.8 L244.0 400.0 L244.7 400.0 L245.4 349.4 L246.1 341.7 L246.8 340.3 L247.5 400.0 L248.2 348.5 L248.9 376.5 L249.6 400.0 L250.3 353.9 L251.0 400.0 L251.7 336.7 L252.4 400.0 L253.1 400.0 L253.8 376.3 L254.5 400.0 L255.2 332.3 L255.9 349.7 L256.6 331.1 L257.3 400.0 L258.0 331.0 L258.7 400.0 L259.4 349.6 L260.1 400.0 L260.8 400.0 L261.5 352.5 L262.2 336.7 L262.9 400.0 L263.6 400.0 L264.3 342.0 L265.0 344.1 L265.7 400.0 L267.1 400.0 L267.8 332.7 L268.5 400.0 L270.6 400.0 L271.3 342.8 L271.6 380.0 L272.1 329.2 L273.3 313.3 L275.0 313.0 L276.5 313.8 L278.3 314.1 L279.2 315.4 L280.4 317.5 L281.3 324.2 L282.5 325.8 L283.8 322.5 L284.2 327.0 L284.7 337.0 L285.3 348.0 L285.6 350.6 L286.0 345.0 L286.4 339.5 L286.8 333.9 L287.2 330.3 L287.6 328.4 L288.0 326.8 L288.4 324.8 L288.8 322.5 L289.2 319.9 L289.6 316.6 L290.0 312.7 L290.5 309.3 L290.9 306.2 L291.3 303.5 L291.7 301.0 L292.1 298.9 L292.5 297.3 L292.9 296.0 L293.3 294.9 L293.7 293.9 L294.1 293.2 L294.5 292.7 L294.9 292.3 L295.3 292.0 L295.7 291.8 L296.1 291.6 L296.5 291.6 L296.9 291.7 L297.3 292.0 L297.7 292.4 L298.1 292.8 L298.5 293.3 L298.9 294.0 L299.3 294.8 L299.7 295.7 L300.1 296.8 L300.6 297.9 L301.0 299.0 L301.4 300.3 L301.8 301.8 L302.2 303.5 L302.6 305.5 L303.0 308.0 L303.4 310.8 L303.8 314.4 L304.2 317.9 L304.6 320.7 L305.0 323.0 L305.7 324.2 L306.4 323.2 L307.0 321.0 L307.4 316.7 L307.8 312.6 L308.2 308.5 L308.6 304.7 L309.0 301.3 L309.4 298.2 L309.9 295.3 L310.3 292.5 L310.7 289.8 L311.1 286.9 L311.5 284.0 L311.9 281.3 L312.3 279.0 L312.7 276.8 L313.1 274.6 L313.5 272.6 L313.9 270.9 L314.3 269.6 L314.7 268.6 L315.1 267.8 L315.6 267.1 L316.0 266.6 L316.4 266.3 L316.8 266.0 L317.2 265.9 L317.6 266.0 L318.0 266.4 L318.4 267.0 L318.8 267.6 L319.2 268.4 L319.6 269.4 L320.0 270.7 L320.4 272.2 L320.8 273.7 L321.2 275.7 L321.7 278.5 L322.1 285.2 L322.5 291.2 L322.9 296.1 L323.3 300.1 L323.7 303.0 L324.1 305.2 L324.5 301.0 L324.9 295.9 L325.3 289.3 L325.7 281.7 L326.1 276.0 L326.5 271.3 L326.9 267.2 L327.3 263.5 L327.8 260.0 L328.2 257.3 L328.6 255.7 L329.0 254.5 L329.4 253.5 L329.8 252.6 L330.2 251.9 L330.6 251.3 L331.0 250.8 L331.4 250.2 L331.8 249.1 L332.2 246.1 L332.6 241.8 L333.0 236.2 L333.4 229.4 L333.8 222.5 L334.2 217.0 L334.7 213.1 L335.1 210.1 L335.5 207.6 L335.9 205.5 L336.3 203.9 L336.7 202.9 L337.1 202.2 L337.5 201.6 L337.9 201.4 L338.3 201.5 L338.7 201.8 L339.1 202.3 L339.5 203.0 L339.9 204.4 L340.3 206.4 L340.7 208.8 L341.2 212.0 L341.6 215.5 L342.0 219.8 L342.4 224.5 L342.8 229.3 L343.2 234.4 L343.6 239.2 L344.0 243.7 L344.4 248.0 L344.8 243.5 L345.2 239.0 L345.6 234.5 L346.0 229.9 L346.5 224.5 L346.9 218.2 L347.3 213.0 L347.7 208.7 L348.1 205.0 L348.5 201.7 L348.9 198.8 L349.3 196.4 L349.7 194.3 L350.1 192.5 L350.6 191.3 L351.0 190.2 L351.4 189.3 L351.8 188.6 L352.2 188.3 L353.0 188.6 L353.7 189.4 L354.4 188.9 L355.0 188.7 L355.9 189.3 L356.7 190.2 L357.1 190.4 L357.5 190.8 L357.9 191.2 L358.3 191.7 L358.7 192.3 L359.1 192.9 L359.5 193.5 L359.9 194.4 L360.3 195.4 L360.8 196.5 L361.2 197.9 L361.6 199.8 L362.0 202.1 L362.4 205.4 L362.8 211.0 L363.2 219.1 L363.6 227.7 L364.0 237.5 L364.4 246.0 L364.8 253.3 L365.2 249.3 L365.6 245.5 L366.0 241.8 L366.4 238.2 L366.8 234.8 L367.2 231.4 L367.6 228.2 L368.0 225.2 L368.4 222.2 L368.8 219.0 L369.2 215.3 L369.6 211.2 L370.0 206.8 L370.4 201.6 L370.8 197.0 L371.2 193.7 L371.6 190.8 L372.0 188.6 L372.4 187.1 L372.8 186.0 L373.2 185.1 L373.6 184.4 L374.0 183.7 L374.4 183.1 L374.8 182.6 L375.2 182.1 L375.6 181.8 L376.0 181.7 L376.4 181.8 L376.8 182.0 L377.2 182.3 L377.6 182.6 L378.0 183.0 L378.4 183.6 L378.8 184.5 L379.2 185.5 L379.6 186.6 L380.0 187.8 L380.4 189.1 L380.8 190.5 L381.2 192.4 L381.6 194.9 L382.0 199.2 L382.4 206.3 L382.8 213.6 L383.2 221.7 L383.6 228.8 L384.0 233.9 L384.4 238.2 L384.8 241.3 L385.2 236.2 L385.6 230.9 L386.0 225.6 L386.4 220.0 L386.9 214.5 L387.3 210.2 L387.7 206.5 L388.1 203.5 L388.5 200.9 L388.9 198.7 L389.3 197.1 L389.7 195.7 L390.1 194.6 L390.5 194.0 L391.0 193.6 L391.4 193.3 L391.8 193.2 L392.2 193.6 L392.6 194.3 L393.0 195.3 L393.4 196.8 L393.8 198.9 L394.2 201.0 L394.7 203.2 L395.1 205.5 L395.5 208.0 L395.9 210.6 L396.3 213.8 L396.7 217.9 L397.1 222.7 L397.5 228.2 L397.9 234.3 L398.3 239.8 L398.8 244.0 L399.2 250.0 L399.6 258.2 L400.0 263.0 L400.4 266.0 L400.8 263.0 L401.2 259.0 L401.6 254.0 L402.0 247.5 L402.4 239.1 L402.8 229.9 L403.2 221.3 L403.6 214.6 L404.0 208.9 L404.4 204.2 L404.8 199.9 L405.3 196.6 L405.7 194.7 L406.1 193.4 L406.5 192.4 L406.9 192.0 L407.3 191.6 L407.7 191.4 L408.1 191.3 L408.5 191.3 L408.9 191.6 L409.3 191.9 L409.7 192.4 L410.1 193.1 L410.5 194.6 L410.9 196.3 L411.3 198.2 L411.7 201.0 L412.1 206.1 L412.5 213.4 L412.9 222.7 L413.3 233.4 L413.7 243.0 L414.1 248.9 L414.5 253.5 L415.0 257.9 L415.4 262.5 L415.8 266.7 L416.2 271.3 L416.6 277.1 L417.0 286.6 L417.4 295.6 L417.8 301.6 L418.2 307.7 L418.6 316.6 L419.0 335.8 L419.4 380.0 L419.8 400.0 L420.6 355.3 L421.4 337.3 L422.2 330.9 L423.0 400.0 L423.8 343.9 L424.6 338.2 L425.4 400.0 L426.2 336.4 L427.0 335.3 L427.8 400.0 L428.6 335.6 L429.4 400.0 L430.2 334.5 L431.0 400.0 L432.6 400.0 L433.4 353.5 L434.2 400.0 L435.0 400.0 L435.8 355.8 L436.6 400.0 L437.4 337.5 L438.2 400.0 L439.0 400.0 L439.8 333.5 L440.6 400.0 L441.4 346.4 L442.2 353.6 L443.0 400.0 L443.8 337.7 L444.6 400.0 L446.2 400.0 L447.0 337.9 L447.8 400.0 L448.6 394.3 L449.4 400.0 L451.8 400.0 L452.6 332.8 L453.4 345.0 L454.2 400.0 L455.0 400.0 L455.8 347.7 L456.6 339.0 L457.4 400.0 L458.2 400.0 L459.0 368.2 L459.8 400.0 L460.6 343.3 L461.4 345.5 L462.2 333.4 L463.0 349.4 L463.8 344.2 L464.6 400.0 L465.4 355.7 L466.2 347.7 L467.0 400.0 L467.8 400.0 L468.6 343.0 L469.4 400.0 L470.2 352.2 L471.0 363.7 L471.8 343.3 L472.6 400.0 L473.4 370.7 L474.2 352.4 L475.0 400.0 L476.6 400.0 L477.4 341.8 L478.2 400.0 L479.0 348.9 L479.8 400.0 L480.6 335.5 L481.4 400.0 L482.2 400.0 L483.0 336.5 L483.8 400.0 L484.6 400.0 L485.4 344.3 L486.2 400.0 L487.0 400.0 L487.8 347.7 L488.6 333.8 L489.4 400.0 L490.2 355.9 L491.0 400.0 L491.8 333.8 L492.6 400.0 L495.0 400.0 L495.8 375.3 L496.6 400.0 L497.4 400.0 L498.2 337.9 L499.0 400.0 L499.8 341.7 L500.6 400.0 L501.4 335.1 L502.2 329.8 L503.0 400.0 L503.8 333.3 L504.6 400.0 L506.2 400.0 L507.0 334.3 L507.8 400.0 L508.6 362.5 L509.4 400.0 L510.2 346.0 L511.0 363.6 L511.8 400.0 L512.6 343.2 L513.4 345.9 L514.2 400.0 L515.0 400.0 L515.8 346.3 L516.6 349.1 L517.4 400.0 L518.2 400.0 L519.0 354.3 L519.8 400.0 L520.6 352.6 L521.4 357.0 L522.2 400.0 L523.0 400.0 L523.8 361.3 L524.6 400.0 L525.4 339.4 L526.2 400.0 L527.0 339.9 L527.8 336.9 L528.6 400.0 L529.4 400.0 L530.2 335.4 L531.0 330.0 L531.8 400.0 L532.6 351.6 L533.4 348.9 L534.2 337.3 L535.0 356.1 L535.8 400.0 L537.4 400.0 L538.2 361.0 L539.0 400.0 L539.8 334.8 L540.6 400.0 L541.4 343.1 L542.2 344.9 L543.0 400.0 L543.8 350.0 L544.6 400.0 L545.4 347.3 L546.2 400.0 L547.0 333.0 L547.8 337.8 L548.6 348.9 L549.4 400.0 L550.2 400.0 L551.0 345.6 L551.8 400.0 L552.6 341.8 L553.4 400.0 L555.0 400.0 L555.8 363.8 L556.6 348.1 L557.4 364.3 L558.2 335.6 L559.0 400.0 L559.8 339.9 L560.6 334.3 L561.4 400.0 L562.2 339.8 L563.0 334.2 L563.8 342.5 L564.6 354.8 L565.4 400.0 L566.2 350.0 L567.0 338.8 L567.8 400.0 L568.6 400.0 L569.4 370.8 L570.2 400.0 L571.0 375.2 L571.8 400.0 L572.6 338.8 L573.4 342.8 L574.2 353.4 L575.0 400.0 L577.4 400.0 L578.2 330.2 L579.0 335.2 L579.8 400.0 L580.6 336.0 L581.4 338.8 L582.2 331.7 L583.0 334.6 L583.8 400.0 L584.6 400.0 L585.4 346.3 L586.2 338.9 L587.0 400.0 L587.8 337.0 L588.6 400.0 L589.4 334.7 L590.2 400.0 L591.0 332.2 L591.8 350.3 L592.6 332.6 L593.4 333.8 L594.2 400.0 L595.0 362.6 L595.8 400.0 L596.6 400.0 L597.4 354.0 L598.2 400.0 L599.8 400.0 L600.6 358.1 L601.4 330.4 L602.2 372.2 L603.0 400.0 L603.8 400.0 L604.6 332.5 L605.4 348.5 L606.2 400.0 L607.0 400.0 L607.8 359.2 L608.6 400.0 L609.4 400.0 L610.2 338.2 L611.0 400.0 L611.8 338.0 L612.6 338.2 L613.4 400.0 L614.2 353.4 L615.0 400.0 L615.8 336.5 L616.6 400.0 L617.4 334.2 L618.2 400.0 L619.0 353.4 L619.8 400.0 L620.6 338.5 L621.4 400.0 L622.2 330.4 L623.0 335.2 L623.8 400.0 L624.6 338.1 L625.4 344.8 L626.2 344.1 L627.0 334.9 L627.8 400.0 L628.6 337.1 L629.4 342.8 L630.2 400.0 L631.0 338.4 L631.8 345.0 L632.6 400.0 L634.2 400.0 L635.0 332.8 L635.8 400.0 L636.6 341.3 L637.4 400.0 L638.2 336.4 L639.0 372.3 L639.8 400.0 L640.6 335.6 L641.4 400.0 L642.2 334.3 L643.0 400.0 L643.8 333.1 L644.6 400.0 L645.4 357.5 L646.2 400.0 L647.0 359.3 L647.8 346.1 L648.6 337.6" stroke="#d62728"/>
</g>
<rect x="90.5" y="52.5" width="558" height="326" fill="none" stroke="#d3d3d3" stroke-width="1"/>
<rect x="97.7" y="59.7" width="146.5" height="67.1" rx="2.6" ry="2.6" fill="#fff" fill-opacity="0.8" stroke="#ccc" stroke-opacity="0.8" stroke-width="1.1"/>
<path d="M102.2 70.9 H132.7" stroke="#bcbd22" stroke-width="1.8" fill="none"/>
<text x="142.4" y="75.9" class="lg">OptoBoard QA</text>
<path d="M102.2 91.8 H132.7" stroke="#ff7f0e" stroke-width="1.8" fill="none"/>
<text x="142.4" y="96.8" class="lg">Post Burn-In</text>
<path d="M102.2 112.6 H132.7" stroke="#d62728" stroke-width="1.8" fill="none"/>
<text x="142.4" y="117.6" class="lg">Pre Burn-In</text>
<text transform="translate(90.6,392.0) rotate(0.05) scale(1,1.155)" class="tk" text-anchor="middle">840</text>
<text transform="translate(164.6,392.0) rotate(0.05) scale(1,1.155)" class="tk" text-anchor="middle">842</text>
<text transform="translate(239.4,392.0) rotate(0.05) scale(1,1.155)" class="tk" text-anchor="middle">844</text>
<text transform="translate(313.6,392.0) rotate(0.05) scale(1,1.155)" class="tk" text-anchor="middle">846</text>
<text transform="translate(387.3,392.0) rotate(0.05) scale(1,1.155)" class="tk" text-anchor="middle">848</text>
<text transform="translate(462.5,392.0) rotate(0.05) scale(1,1.155)" class="tk" text-anchor="middle">850</text>
<text transform="translate(536.6,392.0) rotate(0.05) scale(1,1.155)" class="tk" text-anchor="middle">852</text>
<text transform="translate(610.4,392.0) rotate(0.05) scale(1,1.155)" class="tk" text-anchor="middle">854</text>
<text transform="translate(86.4,57.0) rotate(0.05) scale(1,1.155)" class="tk" text-anchor="end">20</text>
<text transform="translate(86.4,117.0) rotate(0.05) scale(1,1.155)" class="tk" text-anchor="end">0</text>
<text transform="translate(86.4,176.0) rotate(0.05) scale(1,1.155)" class="tk" text-anchor="end">−20</text>
<text transform="translate(86.4,235.0) rotate(0.05) scale(1,1.155)" class="tk" text-anchor="end">−40</text>
<text transform="translate(86.4,294.0) rotate(0.05) scale(1,1.155)" class="tk" text-anchor="end">−60</text>
<text transform="translate(86.4,354.0) rotate(0.05) scale(1,1.155)" class="tk" text-anchor="end">−80</text>
<text x="368.4" y="411.8" class="lb" text-anchor="middle">Wavelength [nm]</text>
<text transform="translate(54.2,215.5) rotate(-90)" class="yl" text-anchor="middle">Optical Power [dB]</text>
<text x="369" y="46" class="tt" text-anchor="middle">D4656 V20761 Ch. 5</text>
</svg>
</body></html>
